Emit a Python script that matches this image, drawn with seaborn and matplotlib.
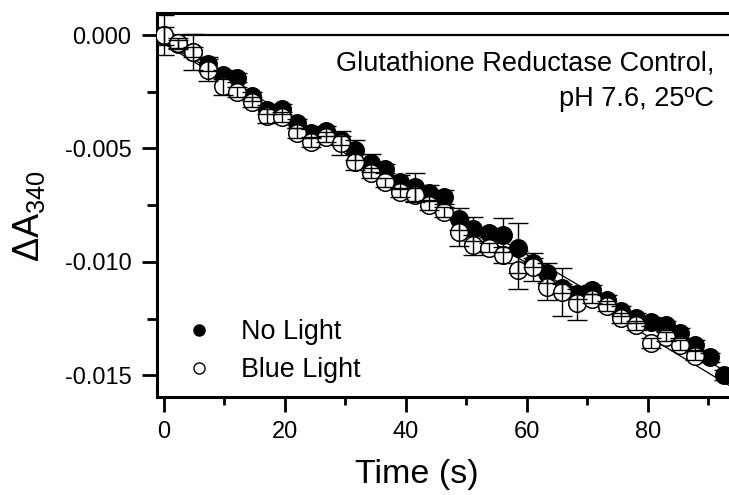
import numpy as np
import pandas as pd
import matplotlib
matplotlib.use('Agg')
import matplotlib.pyplot as plt
import seaborn as sns
from matplotlib.lines import Line2D

# ---------------- data ----------------
time_s = [0, 2.4, 4.9, 7.3, 9.8, 12.2, 14.6, 17.1, 19.5, 22.0, 24.4, 26.8, 29.3,
          31.7, 34.2, 36.6, 39.0, 41.5, 43.9, 46.4, 48.8, 51.2, 53.7, 56.1, 58.6,
          61.0, 63.4, 65.9, 68.3, 70.8, 73.2, 75.6, 78.1, 80.5, 83.0, 85.4, 87.8,
          90.3, 92.7]

no_light = [-0.00005, -0.00040, -0.00075, -0.00128, -0.00176, -0.00189, -0.00269,
            -0.00330, -0.00326, -0.00388, -0.00432, -0.00423, -0.00463, -0.00507,
            -0.00564, -0.00590, -0.00648, -0.00670, -0.00696, -0.00714, -0.00811,
            -0.00855, -0.00872, -0.00881, -0.00938, -0.01004, -0.01048, -0.01115,
            -0.01141, -0.01123, -0.01167, -0.01216, -0.01247, -0.01264, -0.01278,
            -0.01313, -0.01366, -0.01419, -0.01498]
no_light_err = [0.0004, 0.0002, 0.0002, 0.0003, 0.0002, 0.0002, 0.0002, 0.0002,
                0.0002, 0.0002, 0.0002, 0.0002, 0.0002, 0.00044, 0.0004, 0.0002,
                0.0003, 0.00062, 0.00035, 0.00031, 0.00048, 0.00053, 0.0002,
                0.00075, 0.0011, 0.0002, 0.00044, 0.0002, 0.0002, 0.0002, 0.0002,
                0.0002, 0.0002, 0.0002, 0.0002, 0.0002, 0.0002, 0.0002, 0.0002]

blue_light = [0.0, -0.00035, -0.00075, -0.00154, -0.00225, -0.00251, -0.00295,
              -0.00357, -0.00361, -0.00432, -0.00471, -0.00449, -0.00476, -0.00559,
              -0.00608, -0.00648, -0.00692, -0.00705, -0.00749, -0.00780, -0.00868,
              -0.00925, -0.00938, -0.00969, -0.01035, -0.01022, -0.01110, -0.01132,
              -0.01181, -0.01163, -0.01194, -0.01247, -0.01278, -0.01357, -0.01330,
              -0.01366, -0.01414]
blue_light_err = [0.00088, 0.00022, 0.0008, 0.00048, 0.0004, 0.00022, 0.00022,
                  0.00031, 0.00022, 0.00022, 0.00022, 0.00022, 0.00053, 0.00035,
                  0.0002, 0.0002, 0.0002, 0.00031, 0.0002, 0.0002, 0.00062, 0.00044,
                  0.0002, 0.00035, 0.00084, 0.00062, 0.00057, 0.00106, 0.00075,
                  0.0002, 0.0002, 0.0002, 0.0002, 0.0002, 0.0002, 0.0002, 0.0002]

# linear fits (slope per s, intercept)
fit_no_light = [-0.0001563, -0.000304]
fit_blue_light = [-0.0001612, -0.000375]

series_labels = ['No Light', 'Blue Light']
x_ticks = [0, 20, 40, 60, 80]
x_tick_labels = ['0', '20', '40', '60', '80']
x_minor = [10, 30, 50, 70, 90]
y_ticks = [0.0, -0.005, -0.010, -0.015]
y_tick_labels = ['0.000', '-0.005', '-0.010', '-0.015']
y_minor = [-0.0025, -0.0075, -0.0125]
annotation = 'Glutathione Reductase Control,\npH 7.6, 25ºC'

# ---------------- style ----------------
sns.set_style('ticks')
plt.rcParams['font.family'] = ['Liberation Sans', 'DejaVu Sans']
plt.rcParams['mathtext.default'] = 'regular'
for key in ('text.color', 'axes.labelcolor', 'xtick.color', 'ytick.color',
            'xtick.labelcolor', 'ytick.labelcolor', 'axes.edgecolor'):
    plt.rcParams[key] = 'black'

W, H = 729, 495
fig = plt.figure(figsize=(W / 100, H / 100), dpi=100)
xlim = (-1.1, 100.0)
ylim = (-0.01595, 0.00097)
ax_w_px = (xlim[1] - xlim[0]) * 6.05
ax = fig.add_axes([157 / W, 1 - 397 / H, ax_w_px / W, 384 / H])
ax.set_xlim(*xlim)
ax.set_ylim(*ylim)

# zero line
ax.axhline(0, color='black', lw=1.6, zorder=1)

# fit lines
xs = np.array(xlim)
for slope, icpt in (fit_no_light, fit_blue_light):
    ax.plot(xs, icpt + slope * xs, color='black', lw=0.9, zorder=2)

df_nl = pd.DataFrame({'t': time_s, 'A': no_light})
df_bl = pd.DataFrame({'t': time_s[:len(blue_light)], 'A': blue_light})

sns.scatterplot(data=df_nl, x='t', y='A', color='black', edgecolor='black',
                s=160, linewidth=1, zorder=3, ax=ax, legend=False)
sns.scatterplot(data=df_bl, x='t', y='A', color='white', edgecolor='black',
                s=160, linewidth=1.1, zorder=4, ax=ax, legend=False)

ax.errorbar(df_nl['t'], df_nl['A'], yerr=no_light_err, fmt='none', ecolor='black',
            elinewidth=1, capsize=7, capthick=1, zorder=5)
ax.errorbar(df_bl['t'], df_bl['A'], yerr=blue_light_err, fmt='none', ecolor='black',
            elinewidth=1, capsize=7, capthick=1, zorder=5)

# axes styling
for side in ('top', 'left', 'bottom'):
    ax.spines[side].set_linewidth(2.2)
    ax.spines[side].set_color('black')
ax.spines['right'].set_visible(False)

ax.set_xticks(x_ticks)
ax.set_xticklabels(x_tick_labels)
ax.set_xticks(x_minor, minor=True)
ax.set_yticks(y_ticks)
ax.set_yticklabels(y_tick_labels)
ax.set_yticks(y_minor, minor=True)
ax.tick_params(axis='both', which='major', direction='out', length=10.5, width=2,
               labelsize=17, color='black', labelcolor='black')
ax.tick_params(axis='x', which='major', pad=7)
ax.tick_params(axis='y', which='major', pad=8)
ax.tick_params(axis='x', which='minor', direction='out', length=5.5, width=2)
ax.tick_params(axis='y', which='minor', direction='out', length=7, width=2)
ax.tick_params(top=False, right=False, which='both')

ax.set_xlabel('Time (s)', fontsize=24.5)
ax.xaxis.set_label_coords((417 - 157) / ax_w_px, -0.162)
ax.set_ylabel(r'$\mathregular{\Delta A_{340}}$', fontsize=26)
ax.yaxis.label.set_va('center')
ax.yaxis.set_label_coords((29 - 157) / ax_w_px, 0.47)

fig.text(714 / W, 1 - 81 / H, annotation, ha='right', va='center',
         multialignment='right', fontsize=19.5, linespacing=1.5)

handles = [
    Line2D([], [], marker='o', ls='', markerfacecolor='black',
           markeredgecolor='black', markersize=8),
    Line2D([], [], marker='o', ls='', markerfacecolor='white',
           markeredgecolor='black', markersize=8, markeredgewidth=1),
]
ax.legend(handles, series_labels, loc='upper left',
          bbox_to_anchor=(183 / W, 1 - 319 / H), bbox_transform=fig.transFigure,
          frameon=False, fontsize=19.4, handlelength=1.2, handletextpad=0.95,
          borderpad=0, borderaxespad=0, labelspacing=0.45)

fig.savefig('out.png', dpi=100)
